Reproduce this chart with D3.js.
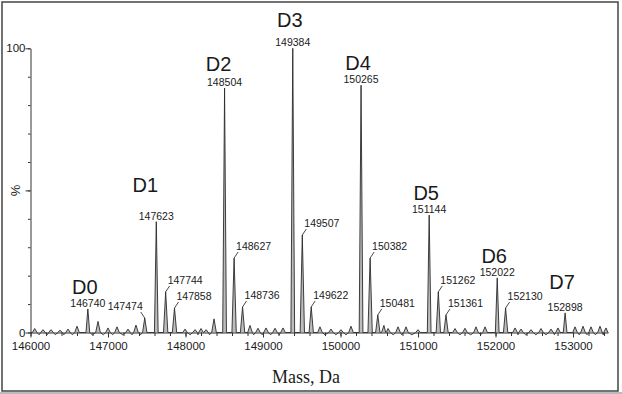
<!DOCTYPE html>
<html>
<head>
<meta charset="utf-8">
<script src="https://cdn.jsdelivr.net/npm/d3@7"></script>
<style>
  body { margin: 0; background: #fff; }
  svg text { font-family: "Liberation Sans", Arial, sans-serif; fill: #1a1a1a; }
</style>
</head>
<body>
<div id="chart"></div>
<script>
// main species (drug load)
const mainNames = ["D0", "D1", "D2", "D3", "D4", "D5", "D6", "D7"];
const mainMass = [146740, 147623, 148504, 149384, 150265, 151144, 152022, 152898];
const mainHeight = [8.3, 39, 86, 100, 87, 41.3, 19.2, 6.9];

// labelled side peaks
const sideMass = [147474, 147744, 147858, 148627, 148736, 149507, 149622, 150382, 150481, 151262, 151361, 152130];
const sideHeight = [5.1, 14.3, 8.6, 26.2, 9, 34.3, 9, 26.2, 6.2, 14.3, 6.2, 8.6];

// baseline noise bumps (unlabelled)
const noiseMass = [146054, 146161, 146265, 146381, 146484, 146600, 146871, 147000, 147116, 147258, 147361,
  147994, 148123, 148200, 148265, 148368, 148832, 148935, 149039, 149155, 149258, 149735, 149877, 150006,
  150135, 150560, 150613, 150742, 150845, 151000, 151477, 151606, 151748, 151865, 152252, 152329, 152458,
  152587, 152716, 152806, 153026, 153129, 153232, 153348, 153426];
const noiseHeight = [1.4, 1, 1, 0.8, 1.2, 2.2, 3.9, 1.6, 2, 1.2, 2.6,
  1.2, 1, 1.4, 1, 4.8, 2.5, 1.5, 1.6, 1.5, 1.6, 2, 1.2, 1,
  2.2, 2.5, 1.4, 2, 2, 1, 1.4, 1.5, 2, 2, 1.6, 1.2, 1,
  1.4, 1.2, 1.6, 2, 2.2, 2, 2.2, 1.6];

// small dips just under the baseline
const dipMass = [146110, 146215, 146320, 146430, 146540, 146800, 146940, 147060, 147190, 147310, 147420,
  148060, 148160, 148310, 148880, 148990, 149100, 149210, 149800, 149940, 150070, 150680, 150790, 150920,
  151540, 151680, 151810, 152290, 152390, 152520, 152650, 152760, 153080, 153180, 153290, 153390];
const dipDepth = -0.8;

const xMajor = [146000, 147000, 148000, 149000, 150000, 151000, 152000, 153000];
const yMajor = [0, 100];

const W = 622, H = 394;
const svg = d3.select("#chart").append("svg")
  .attr("width", W).attr("height", H);

// outer frame
svg.append("rect").attr("x", 0).attr("y", 392).attr("width", W).attr("height", 2).attr("fill", "#bbb");
svg.append("rect")
  .attr("x", 2).attr("y", 2).attr("width", 616).attr("height", 389)
  .attr("fill", "none").attr("stroke", "#444").attr("stroke-width", 1.5);

const x = d3.scaleLinear().domain([146000, 153450]).range([30.5, 607.9]);
const y = d3.scaleLinear().domain([0, 100]).range([332.5, 48.3]);

// build the trace as narrow spikes from the peak lists
const peaks = [];
mainMass.forEach((m, i) => peaks.push({m: m, h: mainHeight[i], w: 24}));
sideMass.forEach((m, i) => peaks.push({m: m, h: sideHeight[i], w: 28}));
noiseMass.forEach((m, i) => peaks.push({m: m, h: noiseHeight[i], w: 30}));
peaks.sort((a, b) => a.m - b.m);

const pts = [[146000, 0]];
peaks.forEach(p => {
  pts.push([p.m - p.w, 0]);
  pts.push([p.m, p.h]);
  pts.push([p.m + p.w, 0]);
});
dipMass.forEach(m => pts.push([m, dipDepth]));
pts.push([153450, 0]);
pts.sort((a, b) => a[0] - b[0]);

// light fill under the tall spikes, then the trace line
svg.append("path")
  .datum(pts)
  .attr("fill", "#bdbdbd")
  .attr("d", d3.area().x(d => x(d[0])).y0(y(0)).y1(d => y(Math.max(d[1], 0))));
svg.append("path")
  .datum(pts)
  .attr("fill", "none")
  .attr("stroke", "#2a2a2a")
  .attr("stroke-width", 0.9)
  .attr("d", d3.line().x(d => x(d[0])).y(d => y(d[1])));

// x axis
const xMinor = d3.range(146000, 153450, 200);
svg.append("g")
  .attr("transform", "translate(0,332.5)")
  .call(d3.axisBottom(x).tickValues(xMinor).tickSize(3.5).tickSizeOuter(0).tickFormat(""))
  .call(g => g.select(".domain").attr("stroke", "#333"))
  .call(g => g.selectAll(".tick line").attr("stroke", "#333"));
svg.append("g")
  .attr("transform", "translate(0,332.5)")
  .call(d3.axisBottom(x).tickValues(xMajor).tickSize(5).tickSizeOuter(0).tickFormat(d3.format("d")))
  .call(g => g.select(".domain").remove())
  .call(g => g.selectAll(".tick line").attr("stroke", "#333"))
  .call(g => g.selectAll(".tick text")
    .attr("y", 9).attr("fill", "#1a1a1a")
    .style("font-size", "11.5px")
    .style("font-family", "Liberation Sans, Arial, sans-serif"));

// y axis
svg.append("g")
  .attr("transform", "translate(30.5,0)")
  .call(d3.axisLeft(y).tickValues(d3.range(0, 101, 10)).tickSize(2.5).tickSizeOuter(0).tickFormat(""))
  .call(g => g.select(".domain").attr("stroke", "#333"))
  .call(g => g.selectAll(".tick line").attr("stroke", "#333"));
svg.append("g")
  .attr("transform", "translate(30.5,0)")
  .call(d3.axisLeft(y).tickValues(yMajor.concat([50])).tickSize(5).tickSizeOuter(0)
    .tickFormat(d => d === 50 ? "" : d))
  .call(g => g.select(".domain").remove())
  .call(g => g.selectAll(".tick line").attr("stroke", "#333"))
  .call(g => g.selectAll(".tick text")
    .attr("x", -5).attr("fill", "#1a1a1a")
    .style("font-size", "11.5px")
    .style("font-family", "Liberation Sans, Arial, sans-serif"));

svg.append("text")
  .attr("transform", `translate(20,${y(50)}) rotate(-90)`)
  .attr("text-anchor", "middle")
  .style("font-size", "13px")
  .text("%");

// x title
svg.append("text")
  .attr("x", 306).attr("y", 383)
  .attr("text-anchor", "middle")
  .style("font-family", "Liberation Serif, Times New Roman, serif")
  .style("font-size", "18px")
  .text("Mass, Da");

// main labels: mass number + D name
const dGap = {D1: 28, D3: 19, D7: 22, D2: 15};
const dShift = {D1: -11, D2: -6};
mainMass.forEach((m, i) => {
  const px = x(m), py = y(mainHeight[i]);
  const nm = mainNames[i];
  svg.append("text")
    .attr("x", px).attr("y", py - 2)
    .attr("text-anchor", "middle")
    .style("font-size", "10.5px")
    .text(m);
  svg.append("text")
    .attr("x", px + (dShift[nm] !== undefined ? dShift[nm] : -3))
    .attr("y", py - 2 - (dGap[nm] || 13))
    .attr("text-anchor", "middle")
    .style("font-size", "20px")
    .text(nm);
});

// side labels with short leader lines
sideMass.forEach((m, i) => {
  const px = x(m), py = y(sideHeight[i]);
  const left = m === 147474;
  const s = left ? -1 : 1;
  svg.append("line")
    .attr("x1", px).attr("y1", py)
    .attr("x2", px + s * 4).attr("y2", py - 6)
    .attr("stroke", "#333").attr("stroke-width", 0.9);
  svg.append("text")
    .attr("x", px + s * 2).attr("y", py - 8)
    .attr("text-anchor", left ? "end" : "start")
    .style("font-size", "10.5px")
    .text(m);
});
</script>
</body>
</html>
